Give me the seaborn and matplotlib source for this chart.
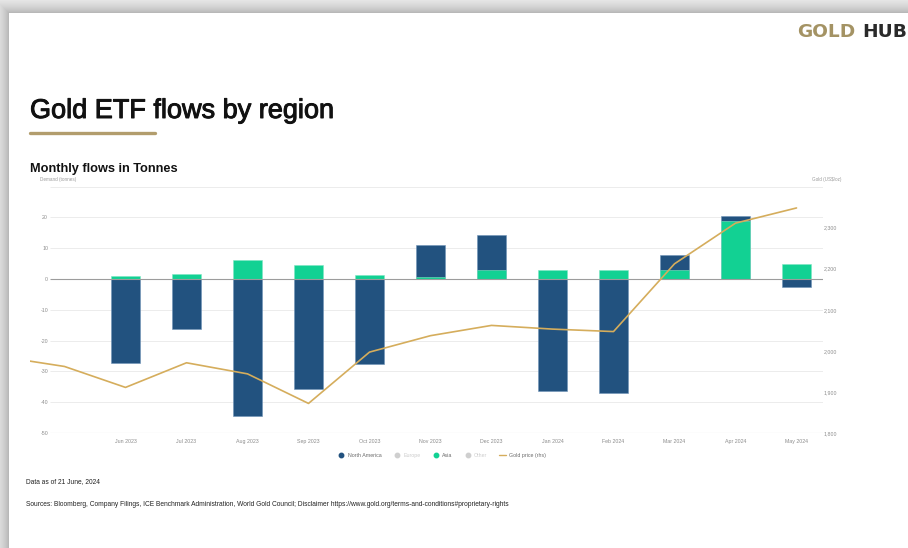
import numpy as np
import pandas as pd
import matplotlib
matplotlib.use("Agg")
import matplotlib.pyplot as plt
import matplotlib.patheffects as pe
from matplotlib.lines import Line2D
from matplotlib.ticker import FuncFormatter
import seaborn as sns

# Monthly gold ETF flows (tonnes) by region
months = ["Jun 2023", "Jul 2023", "Aug 2023", "Sep 2023", "Oct 2023", "Nov 2023",
          "Dec 2023", "Jan 2024", "Feb 2024", "Mar 2024", "Apr 2024", "May 2024"]
north_america = [-27.2, -16.3, -44.5, -35.6, -27.6, 10.5, 11.4, -36.5, -36.9, 4.9, 1.6, -2.6]
asia = [0.9, 1.7, 6.3, 4.6, 1.3, 0.5, 3.0, 3.0, 2.9, 3.0, 18.8, 5.0]

# Month-end gold price (US$/oz), starting two months before the first flow month
gold_months = ["Apr 2023", "May 2023"] + months
gold_price = [1985, 1962, 1911, 1971, 1944, 1872, 1997, 2037, 2062, 2053, 2047, 2212, 2311, 2348]

flow_ticks = [-50, -40, -30, -20, -10, 0, 10, 20]
grid_levels = [-50, -40, -30, -20, -10, 0, 10, 20, 30]
price_ticks = [1800, 1900, 2000, 2100, 2200, 2300]

legend_labels = ["North America", "Europe", "Asia", "Other", "Gold price (rhs)"]

NA_COLOR = "#22527f"
ASIA_COLOR = "#12d193"
GOLD_COLOR = "#d5ad5c"
TICK_GREY = "#8c8c8c"

sns.set_theme(style="white")
plt.rcParams["font.family"] = ["Liberation Sans", "DejaVu Sans"]

W, H = 908, 548
fig = plt.figure(figsize=(W / 100, H / 100), dpi=100)
fig.patch.set_facecolor("white")

# Card with a soft drop shadow along the top and left edges
bg = fig.add_axes([0, 0, 1, 1], zorder=-10)
yy, xx = np.mgrid[0:H, 0:W].astype(float)
card_x, card_y = 9.0, 13.0
dist = np.maximum(card_y - yy, card_x - xx)
shade = np.where(dist > 0, 1 - 0.30 * np.exp(-np.clip(dist, 0, None) / 12.0), 1.0)
bg.imshow(np.dstack([shade] * 3), extent=(0, W, H, 0), aspect="auto", interpolation="bilinear")
bg.set_xlim(0, W)
bg.set_ylim(H, 0)
bg.axis("off")

# Plot area
left_px, right_px, top_px, bottom_px = 30, 823, 186.6, 433
ax = fig.add_axes([left_px / W, (H - bottom_px) / H, (right_px - left_px) / W, (bottom_px - top_px) / H])

pos = np.arange(len(months))
gold_pos = np.arange(len(gold_months)) - 2
na_stacked = [n + a if n > 0 else n for n, a in zip(north_america, asia)]
flows = pd.DataFrame({"pos": pos, "na": na_stacked, "asia": asia})

x_left = (left_px - 125.5) / 61.0
x_right = (right_px - 125.5) / 61.0
grid_start = (50 - 125.5) / 61.0

# Gridlines
ax.hlines([g for g in grid_levels if g not in (0, -50)], grid_start, x_right, color="#ececec", lw=0.7, zorder=0)
ax.hlines([-50], grid_start, x_right, color="#d2d2d2", lw=0.8, zorder=0)

sns.barplot(data=flows, x="pos", y="na", native_scale=True, orient="x", width=0.475,
            color=NA_COLOR, saturation=1, edgecolor="#6f93b8", linewidth=0.4,
            errorbar=None, ax=ax, zorder=2)
sns.barplot(data=flows, x="pos", y="asia", native_scale=True, orient="x", width=0.475,
            color=ASIA_COLOR, saturation=1, edgecolor="#7fe6c4", linewidth=0.4,
            errorbar=None, ax=ax, zorder=3)
ax.hlines([0], grid_start, x_right, color="#9c9c9c", lw=0.8, zorder=4)

ax.set_ylim(-50, 30)
ax.set_yticks(flow_ticks)
ax.set_yticklabels([str(t) for t in flow_ticks])
ax.set_xticks(pos)
ax.set_xticklabels(months)
ax.set_xlabel("")
ax.set_ylabel("")
ax.tick_params(axis="y", length=0, pad=-13, labelsize=3.8, labelcolor=TICK_GREY)
ax.tick_params(axis="x", length=0, pad=4, labelsize=3.8, labelcolor=TICK_GREY)
for s in ax.spines.values():
    s.set_visible(False)
ax.grid(False)
ax.patch.set_alpha(0)

# Gold price on the right-hand axis
ax2 = ax.twinx()
sns.lineplot(x=gold_pos, y=gold_price, ax=ax2, color=GOLD_COLOR, linewidth=1.2, legend=False)
ax2.set_ylim(1800, 2400)
ax2.set_yticks(price_ticks)
ax2.yaxis.set_major_formatter(FuncFormatter(lambda v, p: f"{int(v):,}"))
ax2.tick_params(axis="y", length=0, pad=0.5, labelsize=3.8, labelcolor=TICK_GREY)
ax2.set_ylabel("")
ax2.set_xlabel("")
for s in ax2.spines.values():
    s.set_visible(False)
ax2.grid(False)
ax.set_xlim(x_left, x_right)
ax2.set_xlim(x_left, x_right)

def fy(y_px):
    return 1 - y_px / H

# Headings and axis captions
fig.text(30 / W, fy(111), "Gold ETF flows by region", fontsize=19.5, color="#111111",
         ha="left", va="center",
         path_effects=[pe.withStroke(linewidth=0.7, foreground="#111111")])
fig.add_artist(Line2D([30 / W, 155 / W], [fy(133), fy(133)], color="#b29d6d", lw=2.4))
fig.text(30 / W, fy(169), "Monthly flows in Tonnes", fontsize=9.2, fontweight="bold",
         color="#111111", ha="left", va="center")
fig.text(40 / W, fy(179.5), "Demand (tonnes)", fontsize=3.3, color="#9a9a9a", ha="left", va="center")
fig.text(842 / W, fy(180), "Gold (US$/oz)", fontsize=3.3, color="#9a9a9a", ha="right", va="center")

# Brand mark
fig.text(797 / W, fy(32), "GOLD", fontsize=13.3, color="#a49364", ha="left", va="center",
         family=["DejaVu Sans"], fontweight="bold")
fig.text(862 / W, fy(32), "HUB", fontsize=13.3, color="#2a2a2a", ha="left", va="center",
         family=["DejaVu Sans"], fontweight="bold")

# Legend
handles = [
    Line2D([], [], ls="", marker="o", ms=3.2, color=NA_COLOR),
    Line2D([], [], ls="", marker="o", ms=3.2, color="#cfcfcf"),
    Line2D([], [], ls="", marker="o", ms=3.2, color=ASIA_COLOR),
    Line2D([], [], ls="", marker="o", ms=3.2, color="#cfcfcf"),
    Line2D([], [], color=GOLD_COLOR, lw=1.0),
]
leg = fig.legend(handles, legend_labels, loc="center", bbox_to_anchor=(442 / W, fy(455.7)),
                 ncol=5, frameon=False, fontsize=3.8, handlelength=1.3, handletextpad=0.6,
                 columnspacing=2.2, borderpad=0)
for txt, col in zip(leg.get_texts(), ["#6a6a6a", "#cccccc", "#6a6a6a", "#cccccc", "#6a6a6a"]):
    txt.set_color(col)

# Footnotes
fig.text(26 / W, fy(482), "Data as of 21 June, 2024", fontsize=4.8, color="#222222",
         ha="left", va="center")
fig.text(26 / W, fy(504),
         "Sources: Bloomberg, Company Filings, ICE Benchmark Administration, World Gold Council; "
         "Disclaimer https://www.gold.org/terms-and-conditions#proprietary-rights",
         fontsize=4.75, color="#222222", ha="left", va="center")

fig.savefig("out.png", dpi=100)
